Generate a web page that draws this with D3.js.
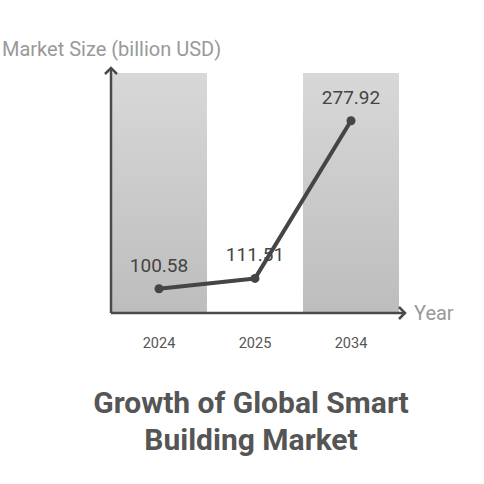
<!DOCTYPE html>
<html><head><meta charset="utf-8">
<script src="https://cdn.jsdelivr.net/npm/d3@7"></script>
<style>html,body{margin:0;padding:0;background:#fff;}svg{display:block;font-family:Roboto,"Noto Sans",sans-serif;}</style>
</head><body>
<script>
const years = ["2024", "2025", "2034"];
const values = [100.58, 111.51, 277.92];
const valueLabels = ["100.58", "111.51", "277.92"];
const titleLines = ["Growth of Global Smart", "Building Market"];
const yAxisTitle = "Market Size (billion USD)";
const xAxisTitle = "Year";

const W = 484, H = 484;
const svg = d3.select("body").append("svg").attr("width", W).attr("height", H);

const x0 = 111, x1 = 399, yTop = 73, yBot = 313;
const x = d3.scaleBand().domain(years).range([x0, x1]).padding(0);
const y = d3.scaleLinear().domain([75, 328.3]).range([yBot, yTop]);

const defs = svg.append("defs");
const g = defs.append("linearGradient").attr("id", "bandGrad").attr("x1", 0).attr("y1", 0).attr("x2", 0).attr("y2", 1);
g.append("stop").attr("offset", "0%").attr("stop-color", "#d8d8d8");
g.append("stop").attr("offset", "100%").attr("stop-color", "#bdbdbd");

// alternating bands
svg.selectAll("rect.band").data(years.filter((d, i) => i % 2 === 0)).join("rect")
  .attr("class", "band")
  .attr("x", d => x(d)).attr("y", yTop)
  .attr("width", x.bandwidth()).attr("height", yBot - yTop)
  .attr("fill", "url(#bandGrad)");

// axes
const axisColor = "#4a4a4a";
svg.append("line").attr("x1", x0).attr("y1", yBot).attr("x2", 405).attr("y2", yBot)
  .attr("stroke", axisColor).attr("stroke-width", 2.5);
svg.append("line").attr("x1", x0).attr("y1", yBot).attr("x2", x0).attr("y2", 68)
  .attr("stroke", axisColor).attr("stroke-width", 2.5);
svg.append("path").attr("d", `M${x0 - 6},${74} L${x0},${68} L${x0 + 6},${74}`)
  .attr("fill", "none").attr("stroke", axisColor).attr("stroke-width", 2.5);
svg.append("path").attr("d", `M${399},${yBot - 6} L${405},${yBot} L${399},${yBot + 6}`)
  .attr("fill", "none").attr("stroke", axisColor).attr("stroke-width", 2.5);

// x ticks labels
const xAxis = d3.axisBottom(x).tickSize(0).tickPadding(0);
const xa = svg.append("g").attr("transform", `translate(0,${yBot})`).call(xAxis);
xa.select(".domain").remove();
xa.selectAll("text").attr("y", 35).attr("dy", 0).attr("font-size", 14.5)
  .attr("fill", "#555").attr("font-family", "Roboto");

// axis titles
svg.append("text").attr("x", 2).attr("y", 56).text(yAxisTitle)
  .attr("font-size", 20).attr("fill", "#999");
svg.append("text").attr("x", 414).attr("y", 320).text(xAxisTitle)
  .attr("font-size", 20).attr("fill", "#999");

// line
const cx = d => x(d) + x.bandwidth() / 2;
const line = d3.line().x((d, i) => cx(years[i])).y(d => y(d));
svg.append("path").datum(values).attr("d", line)
  .attr("fill", "none").attr("stroke", "#454545").attr("stroke-width", 4).attr("stroke-linejoin", "round");
svg.selectAll("circle.pt").data(values).join("circle")
  .attr("cx", (d, i) => cx(years[i])).attr("cy", d => y(d)).attr("r", 4.5)
  .attr("fill", "#454545");

// value labels
const labelOffset = [17, 17, 17];
svg.selectAll("text.val").data(values).join("text")
  .attr("x", (d, i) => cx(years[i]))
  .attr("y", (d, i) => y(d) - labelOffset[i])
  .attr("text-anchor", "middle").attr("font-size", 19).attr("fill", "#444")
  .text((d, i) => valueLabels[i]);

// title
svg.selectAll("text.title").data(titleLines).join("text")
  .attr("x", 251).attr("y", (d, i) => 413 + i * 37)
  .attr("text-anchor", "middle").attr("font-size", 30).attr("font-weight", "bold")
  .attr("fill", "#555").text(d => d);
</script>
</body></html>
